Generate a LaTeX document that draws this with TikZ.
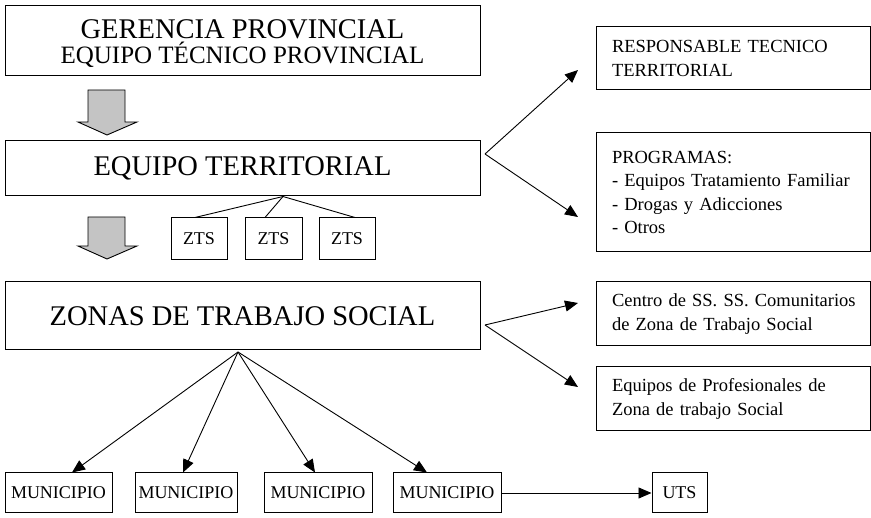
\documentclass[tikz,border=0pt]{standalone}
\usepackage{fontspec}
\setmainfont{Liberation Serif}
\usetikzlibrary{arrows.meta}
\definecolor{arrowgrey}{HTML}{C4C4C4}
\begin{document}
\begin{tikzpicture}[x=1pt,y=-1pt,
  box/.style={draw=black,line width=1pt,rectangle,inner sep=0pt,align=center},
  bigbox/.style={box,minimum width=475pt,font=\fontsize{28.5}{30}\selectfont},
  smallbox/.style={box,minimum height=40pt,font=\fontsize{18}{20}\selectfont},
  sidebox/.style={box,minimum width=274pt,inner xsep=16pt,text width=242pt,align=left,
     font=\fontsize{18.5}{23.5}\selectfont},
  link/.style={line width=0.9pt},
  arr/.style={line width=0.9pt,-{Triangle[length=13pt,width=11pt]}},
  bigarrow/.style={draw=black,line width=0.9pt,fill=arrowgrey}]
\useasboundingbox (0,0) rectangle (871,518);

% main boxes
\node[bigbox,minimum height=70pt] (ger) at (242.5,41)
  {\rule{0pt}{25pt}GERENCIA PROVINCIAL\\[-5pt]{\fontsize{25}{27}\selectfont EQUIPO TÉCNICO PROVINCIAL}};
\node[bigbox,minimum height=55pt] (eqt) at (242.5,168.5) {EQUIPO TERRITORIAL};
\node[bigbox,minimum height=68pt] (zon) at (242.5,316) {ZONAS DE TRABAJO SOCIAL};

% ZTS
\node[smallbox,minimum width=56pt,minimum height=42pt] (z1) at (199,239) {ZTS};
\node[smallbox,minimum width=57pt,minimum height=42pt] (z2) at (273.5,239) {ZTS};
\node[smallbox,minimum width=56pt,minimum height=42pt] (z3) at (347,239) {ZTS};

% side boxes
\node[sidebox,minimum height=63pt] (resp) at (733,58.5)
  {RESPONSABLE TECNICO\\TERRITORIAL};
\node[sidebox,minimum height=119pt] (prog) at (733,192.5)
  {PROGRAMAS:\\- Equipos Tratamiento Familiar\\- Drogas y Adicciones\\- Otros};
\node[sidebox,minimum height=64pt] (cen) at (733,314)
  {\mbox{Centro de SS. SS. Comunitarios}\\de Zona de Trabajo Social};
\node[sidebox,minimum height=64pt] (epr) at (733,399)
  {Equipos de Profesionales de\\Zona de trabajo Social};

% municipios
\node[smallbox,minimum width=107pt] (m1) at (58.5,493) {MUNICIPIO};
\node[smallbox,minimum width=102pt] (m2) at (186,493) {MUNICIPIO};
\node[smallbox,minimum width=108pt] (m3) at (318,493) {MUNICIPIO};
\node[smallbox,minimum width=108pt] (m4) at (447,493) {MUNICIPIO};
\node[smallbox,minimum width=55pt] (uts) at (679.5,493) {UTS};

% grey arrows
\draw[bigarrow] (88,90) -- (125,90) -- (125,122) -- (137,122) -- (107,135)
  -- (78,122) -- (88,122) -- cycle;
\draw[bigarrow] (88,217) -- (125,217) -- (125,246) -- (137,246) -- (107,259)
  -- (78,246) -- (88,246) -- cycle;

% ZTS links
\coordinate (eqtap) at (283,196.5);
\draw[link] (eqtap) -- ([xshift=-4pt]z1.north);
\draw[link] (eqtap) -- ([xshift=-8.5pt]z2.north);
\draw[link] (eqtap) -- ([xshift=8pt]z3.north);

% fan arrows right
\coordinate (eqtR) at (485,154);
\coordinate (respT) at (578,70);
\coordinate (progT) at (578,217);
\draw[arr] (eqtR) -- (respT);
\draw[arr] (eqtR) -- (progT);

\coordinate (zonR) at (485,325);
\coordinate (cenT) at (578,303);
\coordinate (eprT) at (578,387);
\draw[arr] (zonR) -- (cenT);
\draw[arr] (zonR) -- (eprT);

% municipio arrows
\coordinate (zonB) at (238,352);
\draw[arr] (zonB) -- ([xshift=13.5pt]m1.north);
\draw[arr] (zonB) -- ([xshift=-3pt]m2.north);
\draw[arr] (zonB) -- ([xshift=-3pt]m3.north);
\draw[arr] (zonB) -- ([xshift=-20pt]m4.north);

\draw[arr] (m4.east) -- (uts.west);
\end{tikzpicture}
\end{document}
